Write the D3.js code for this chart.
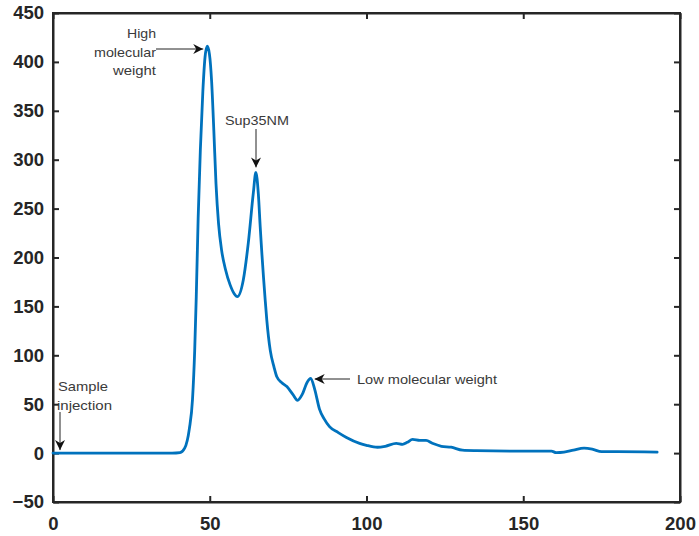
<!DOCTYPE html>
<html>
<head>
<meta charset="utf-8">
<script src="https://cdn.jsdelivr.net/npm/d3@7/dist/d3.min.js"></script>
<style>
  html, body { margin: 0; padding: 0; background: #fff; }
  svg { display: block; }
</style>
</head>
<body>
<svg id="chart" width="699" height="536"></svg>
<script>
// ---- Data ----
const elutionX = [0, 10, 20, 30, 38, 40.5, 42, 43.5, 44.5, 45.2, 45.7, 46.3, 47, 47.8, 48.5, 49.2, 49.9, 50.6, 51.3, 52, 52.8, 53.8, 55, 56.5, 57.8, 58.8, 60.7, 62.3, 63.9, 64.7, 65.5, 66.1, 67.7, 68.2, 69.3, 70.5, 71.4, 73, 74.6, 76.5, 78, 79.5, 81, 82.2, 83.5, 85, 86.5, 88.2, 91, 93.6, 97.8, 100, 103.5, 106, 109.5, 111.5, 113, 114.7, 117, 119, 121, 123.9, 127, 130.6, 135, 148.7, 159, 160.5, 163, 166, 169.4, 172, 175, 180, 192.7];
const absorbance = [0, 0, 0, 0, 0, 0.5, 5, 25, 55, 105, 160, 240, 310, 370, 405, 416, 408, 380, 330, 275, 235, 207, 188, 172, 163, 160, 177, 215, 266, 287, 265, 231, 156, 136, 105, 88, 78, 72, 68, 60, 54, 60, 72, 76.5, 65, 45, 35, 27, 21, 16, 10, 8, 6, 7, 10, 9, 11, 14, 13, 13, 10, 7, 6, 3, 2.5, 2, 2, 0.5, 1, 3, 5, 4, 1.5, 1.5, 1];
const xTicks = [0, 50, 100, 150, 200];
const yTicks = [-50, 0, 50, 100, 150, 200, 250, 300, 350, 400, 450];
const xDomain = [0, 200];
const yDomain = [-50, 450];

// ---- Layout ----
const svg = d3.select("#chart");
const L = 53, R = 680, T = 13, B = 502;
const x = d3.scaleLinear().domain(xDomain).range([L, R]);
const y = d3.scaleLinear().domain(yDomain).range([B, T]);

const axisColor = "#262626";
const fontTick = "'Liberation Sans', Arial, Helvetica, sans-serif";

function styleAxis(g, labels) {
  g.select(".domain").attr("stroke", axisColor).attr("stroke-width", 2);
  g.selectAll(".tick line").attr("stroke", axisColor).attr("stroke-width", 2);
  g.selectAll(".tick text")
    .attr("fill", axisColor)
    .attr("font-family", fontTick)
    .attr("font-weight", "bold")
    .attr("font-size", 18.5);
  if (!labels) g.selectAll(".tick text").remove();
}

svg.append("g").attr("transform", `translate(0,${B})`)
  .call(d3.axisBottom(x).tickValues(xTicks).tickSizeInner(-6).tickSizeOuter(0).tickPadding(15))
  .call(g => styleAxis(g, true));
svg.append("g").attr("transform", `translate(${L},0)`)
  .call(d3.axisLeft(y).tickValues(yTicks).tickSizeInner(-6).tickSizeOuter(0).tickPadding(9))
  .call(g => styleAxis(g, true));
svg.append("g").attr("transform", `translate(0,${T})`)
  .call(d3.axisTop(x).tickValues(xTicks).tickSizeInner(-6).tickSizeOuter(0).tickFormat(""))
  .call(g => styleAxis(g, false));
svg.append("g").attr("transform", `translate(${R},0)`)
  .call(d3.axisRight(y).tickValues(yTicks).tickSizeInner(-6).tickSizeOuter(0).tickFormat(""))
  .call(g => styleAxis(g, false));

// square the frame corners
svg.append("rect").attr("x", L).attr("y", T).attr("width", R - L).attr("height", B - T)
  .attr("fill", "none").attr("stroke", axisColor).attr("stroke-width", 2);

// ---- Curve ----
const pts = elutionX.map((v, i) => [v, absorbance[i]]);
svg.append("path")
  .datum(pts)
  .attr("fill", "none")
  .attr("stroke", "#0072BD")
  .attr("stroke-width", 2.8)
  .attr("stroke-linejoin", "round")
  .attr("stroke-linecap", "round")
  .attr("d", d3.line().x(d => x(d[0])).y(d => y(d[1])).curve(d3.curveMonotoneX));

// ---- Annotations ----
const defs = svg.append("defs");
defs.append("marker")
  .attr("id", "arrow").attr("viewBox", "0 0 10 10")
  .attr("refX", 10).attr("refY", 5)
  .attr("markerWidth", 10).attr("markerHeight", 10)
  .attr("markerUnits", "userSpaceOnUse")
  .attr("orient", "auto")
  .append("path").attr("d", "M0,0 L10,5 L0,10 L3,5 Z").attr("fill", "#111");

const annFont = "'Liberation Sans', Arial, Helvetica, sans-serif";
function label(txt, xp, yp, anchor, len) {
  const t = svg.append("text").attr("x", xp).attr("y", yp)
    .attr("text-anchor", anchor)
    .attr("font-family", annFont).attr("font-size", 13)
    .attr("fill", "#3a3a3a").text(txt);
  if (len) t.attr("textLength", len).attr("lengthAdjust", "spacingAndGlyphs");
  return t;
}
function arrow(x1, y1, x2, y2) {
  svg.append("line").attr("x1", x1).attr("y1", y1).attr("x2", x2).attr("y2", y2)
    .attr("stroke", "#222").attr("stroke-width", 1)
    .attr("marker-end", "url(#arrow)");
}

// High molecular weight (peak ~49, 416)
label("High", 156, 38, "end", 29);
label("molecular", 156, 57, "end", 62);
label("weight", 156, 75, "end", 43);
arrow(156, 49, x(49.2) - 4, 49);

// Sup35NM (peak ~64.7, 287)
label("Sup35NM", 257, 125, "middle", 64);
arrow(256, 129, 256, y(287) - 5);

// Low molecular weight (peak ~82.2, 76.5)
label("Low molecular weight", 357, 384, "start", 140);
arrow(350, 379, x(82.2) + 4, 379);

// Sample injection
label("Sample", 58, 391, "start", 50);
label("injection", 57, 410, "start", 55);
arrow(60, 412, 60, y(0) - 3);
</script>
</body>
</html>
